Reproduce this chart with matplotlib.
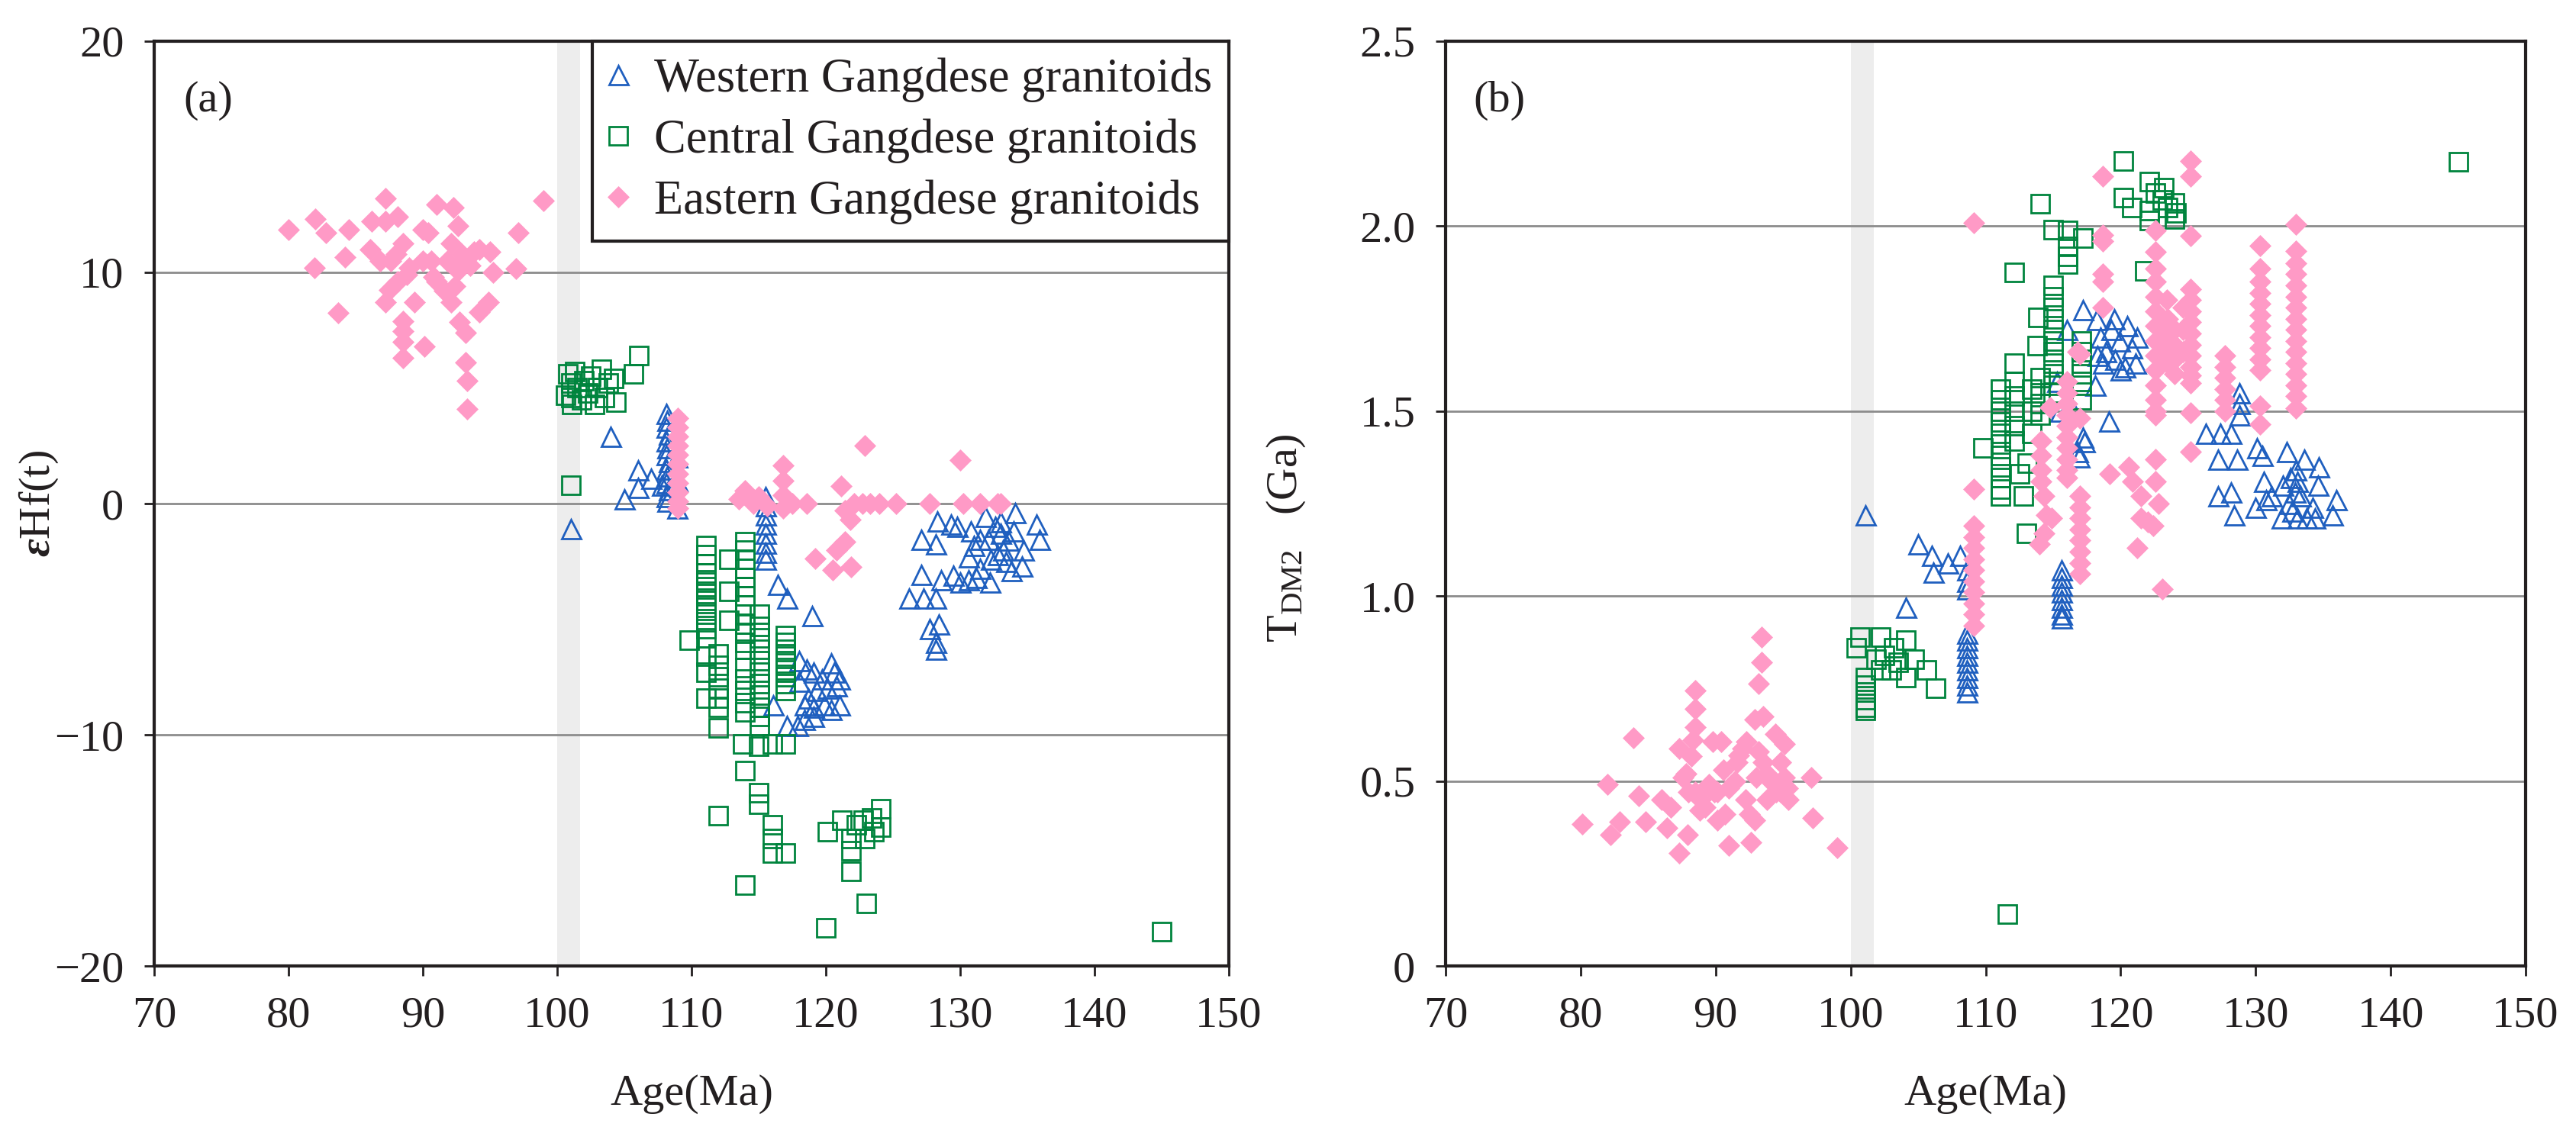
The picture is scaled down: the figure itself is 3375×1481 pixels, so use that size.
import matplotlib
matplotlib.use("Agg")
import matplotlib.pyplot as plt

plt.rcParams['font.family'] = ['Liberation Serif', 'DejaVu Serif']
plt.rcParams['mathtext.fontset'] = 'custom'
plt.rcParams['mathtext.rm'] = 'Liberation Serif'
plt.rcParams['mathtext.it'] = 'Liberation Serif:italic'
plt.rcParams['mathtext.bf'] = 'Liberation Serif:italic:bold'

# ---------------- data: panel (a) eHf(t) ----------------
a_west_x = [101.0, 104.0, 105.0, 106.0, 106.0, 107.0, 107.8,
            108.1, 108.2, 108.1, 108.3, 108.1, 108.2, 108.1, 108.3, 108.1, 108.2, 108.1, 108.3, 108.1, 108.2,
            108.9, 108.9, 108.9,
            115.5, 115.5, 115.5, 115.5, 115.5, 115.5, 115.5, 115.5,
            116.4, 117.1, 119.0, 116.1, 117.1,
            118.0, 118.6, 119.1, 119.7, 120.4, 120.6, 121.0, 120.8, 120.1, 119.3, 118.7, 118.4, 119.1, 119.9,
            120.4, 121.0, 118.4, 117.9, 119.1, 118.0,
            128.3, 127.1, 128.2, 129.8, 131.9, 130.8, 132.1, 133.0, 133.6, 134.1, 135.7, 135.9, 134.7, 130.6,
            132.3, 133.4, 133.8, 134.6, 127.1, 128.6, 130.0, 130.6, 132.2, 126.2, 127.3, 128.2, 127.7, 128.4,
            128.2, 128.2, 131.0, 132.6, 133.2, 131.5, 132.8, 129.5, 131.2, 133.0, 134.0, 129.3, 131.5]
a_west_y = [-1.1, 2.9, 0.2, 1.45, 0.7, 1.1, 0.8,
            3.9, 3.6, 3.3, 3.0, 2.7, 2.4, 2.1, 1.8, 1.5, 1.2, 0.9, 0.6, 0.3, 0.1,
            2.0, 1.0, -0.2,
            0.3, -0.1, -0.5, -0.9, -1.3, -1.7, -2.1, -2.4,
            -3.5, -4.1, -4.85, -8.7, -9.6,
            -6.8, -7.15, -7.3, -7.6, -6.9, -7.3, -7.6, -7.9, -8.0, -8.1, -8.4, -8.7, -8.8, -8.7,
            -8.9, -8.7, -9.35, -9.6, -9.2, -7.7,
            -0.77, -1.54, -1.76, -1.0, -0.55, -1.2, -1.54, -1.3, -1.6, -0.4, -0.9, -1.54, -2.0, -2.3,
            -2.4, -2.5, -2.9, -2.7, -3.07, -3.3, -3.4, -3.3, -3.4, -4.1, -4.1, -4.1, -5.4, -5.2,
            -6.0, -6.3, -1.8, -1.0, -2.0, -2.8, -2.2, -3.1, -3.2, -0.8, -1.2, -0.88, -1.54]

a_cent_x = [100.6, 100.8, 101.0, 101.0, 101.1, 101.3, 101.5, 101.8, 102.0, 102.3, 102.5, 102.8, 103.0,
            103.3, 103.5, 103.8, 104.2, 104.4, 105.7, 106.1, 101.0,
            111.1, 111.1, 111.1, 111.1, 111.1, 111.1, 111.1, 111.1, 111.1, 111.1, 111.1, 111.1, 111.1,
            111.1, 111.1, 111.1,
            109.85,
            112.0, 112.0, 112.0, 112.0, 112.0, 112.0, 112.0, 112.0,
            112.8, 112.8, 112.8,
            114.0, 114.0, 114.0, 114.0, 114.0, 114.0, 114.0, 114.0, 114.0, 114.0, 114.0, 114.0, 114.0,
            114.0, 114.0, 114.0, 114.0, 114.0, 113.8, 114.0, 114.0,
            115.05, 115.05, 115.05, 115.05, 115.05, 115.05, 115.05, 115.05, 115.05, 115.05, 115.05, 115.0,
            115.0, 115.0,
            116.0, 116.0, 116.0, 116.0, 117.0,
            117.0, 117.0, 117.0, 117.0, 117.0, 117.0, 117.0, 117.0, 117.0, 117.0,
            120.1, 121.2, 121.9, 121.9, 121.9, 122.8, 123.4, 124.1, 124.1, 122.9, 123.0, 120.0, 122.3, 123.6,
            145.0]
a_cent_y = [4.7, 5.6, 5.2, 4.6, 4.3, 5.7, 5.0, 4.5, 5.3, 4.8, 5.5, 4.3, 5.0,
            5.8, 4.6, 5.2, 5.4, 4.4, 5.6, 6.4, 0.8,
            -1.8, -2.2, -2.6, -3.0, -3.3, -3.6, -3.9, -4.2, -4.5, -4.8, -5.1, -5.4, -5.8,
            -6.6, -7.3, -8.4,
            -5.9,
            -6.5, -7.0, -7.5, -8.0, -8.4, -8.8, -9.7, -13.5,
            -2.4, -3.8, -5.06,
            -1.65, -2.0, -2.4, -2.8, -3.2, -3.6, -4.0, -4.4, -4.8, -5.2, -5.6, -6.0, -6.3,
            -7.1, -7.6, -8.1, -8.6, -9.0, -10.4, -11.55, -16.5,
            -4.8, -5.3, -5.8, -6.3, -6.8, -7.3, -7.8, -8.3, -8.8, -9.2, -9.6, -10.5,
            -12.5, -13.0,
            -10.4, -13.9, -14.5, -15.1, -15.1,
            -5.7, -6.0, -6.3, -6.6, -6.9, -7.2, -7.5, -7.8, -8.1, -10.4,
            -14.2, -13.7, -14.5, -15.0, -15.9, -13.7, -13.6, -13.2, -14.0, -14.5, -17.3, -18.35, -13.9, -14.2,
            -18.5]

a_east_x = [80.0, 82.0, 81.95, 82.8, 83.7, 84.5, 84.2, 86.2, 87.2, 87.2, 88.1, 86.1, 86.8, 87.6,
            88.5, 87.5, 87.2, 88.1, 88.8, 89.4, 88.5, 88.5, 88.5, 88.5, 90.1, 90.0, 90.4, 90.0, 90.6,
            91.0, 92.3, 92.6, 92.1, 91.8, 92.6, 91.0, 91.6, 92.1, 92.9, 93.2, 93.5, 92.7, 93.2, 93.2,
            93.3, 93.3, 94.2, 94.9, 94.2, 95.0, 95.2, 97.1, 96.95, 98.95, 89.0, 90.8, 92.4, 88.0, 93.8,
            109.0, 109.0, 109.0, 109.0, 109.0, 109.0, 109.0, 109.0, 109.0, 109.0, 109.0,
            114.0, 114.6, 115.6, 116.8, 116.8, 116.8, 116.8, 118.6, 121.15, 122.9, 121.4, 121.8, 122.1,
            122.7, 124.0, 125.2, 127.7, 130.0, 130.2, 132.8, 119.2, 120.8, 121.4, 120.5, 121.9, 113.5,
            115.0, 117.5, 123.3, 131.5, 133.0]
a_east_y = [11.85, 12.3, 10.2, 11.7, 8.25, 11.85, 10.65, 12.2, 13.2, 12.2, 12.4, 11.0, 10.5, 10.5,
            11.25, 9.25, 8.7, 9.6, 9.9, 8.7, 7.9, 7.45, 7.0, 6.3, 6.8, 11.85, 11.7, 10.5, 10.5,
            12.95, 12.8, 12.0, 11.25, 10.5, 10.05, 9.6, 9.2, 8.7, 10.8, 10.6, 10.3, 7.85, 7.4, 6.1,
            5.3, 4.1, 8.3, 8.7, 11.0, 10.9, 10.0, 11.7, 10.15, 13.1, 10.2, 9.8, 9.4, 10.8, 10.9,
            3.7, 3.3, 2.9, 2.5, 2.1, 1.7, 1.3, 0.9, 0.5, 0.1, -0.2,
            0.55, 0.0, -0.1, 1.65, 1.0, 0.35, -0.2, 0.0, 0.77, 2.5, -0.3, -0.7, 0.0,
            0.0, 0.0, 0.0, 0.0, 1.87, 0.0, 0.0, -2.37, -2.0, -1.65, -2.86, -2.75, 0.2,
            0.3, 0.0, 0.0, 0.0, 0.0]

# ---------------- data: panel (b) TDM2 (Ga) ----------------
b_west_x = [101.1, 104.1, 105.0, 106.0, 106.1, 107.2, 108.1,
            108.6, 108.6, 108.6, 108.6, 108.6, 108.6, 108.6, 108.6, 108.6, 108.6, 108.6, 108.6,
            115.6, 115.6, 115.6, 115.6, 115.6, 115.6, 115.6, 115.6,
            116.9, 117.3, 116.0, 117.2, 118.2, 119.15, 118.1,
            118.5, 118.9, 119.3, 119.6, 119.9, 120.3, 120.5, 120.8, 121.1, 121.2, 118.7, 119.5, 120.0, 118.3,
            115.3, 115.5, 116.2, 116.8, 117.2,
            126.3, 127.4, 128.2, 127.2, 128.6, 128.8, 128.8, 128.8, 130.1, 130.5, 132.3, 133.6, 134.7,
            130.6, 132.6, 133.1, 134.6, 132.9, 127.2, 128.2, 130.0, 130.8, 128.4, 131.9, 133.1, 133.8,
            136.0, 135.7, 132.5, 133.3, 132.0, 131.2, 134.2, 133.0, 132.7, 134.4]
b_west_y = [1.22, 0.97, 1.14, 1.11, 1.065, 1.09, 1.11,
            0.90, 0.88, 0.86, 0.84, 0.82, 0.80, 0.78, 0.76, 0.74, 1.07, 1.04, 1.02,
            1.07, 1.05, 1.03, 1.01, 0.99, 0.97, 0.95, 0.94,
            1.376, 1.417, 1.72, 1.774, 1.747, 1.472, 1.57,
            1.70, 1.66, 1.72, 1.64, 1.69, 1.62, 1.73, 1.67, 1.63, 1.70, 1.63, 1.75, 1.61, 1.65,
            1.58, 1.50, 1.52, 1.39, 1.43,
            1.44, 1.44, 1.44, 1.37, 1.37, 1.55, 1.52, 1.49, 1.40, 1.38, 1.39, 1.37, 1.35,
            1.31, 1.32, 1.31, 1.30, 1.28, 1.27, 1.28, 1.24, 1.26, 1.22, 1.21, 1.21, 1.21,
            1.26, 1.22, 1.25, 1.27, 1.30, 1.27, 1.24, 1.34, 1.23, 1.21]

b_cent_x = [100.4, 100.7, 101.1, 101.1, 101.1, 101.1, 101.1, 101.1, 102.2, 102.5, 102.2, 103.2, 103.5,
            104.1, 104.1, 104.7, 105.6, 106.3, 101.9, 103.0,
            109.8,
            111.1, 111.1, 111.1, 111.1, 111.1, 111.1, 111.1, 111.1, 111.1, 111.1, 111.1,
            112.1, 112.1, 112.1, 112.1, 112.1, 112.1, 112.1,
            112.5, 112.8, 113.0, 113.1, 113.4, 113.4, 113.4,
            114.06, 113.9, 113.8, 114.06, 114.06, 114.06, 114.06,
            115.0, 115.0, 115.0, 115.0, 115.0, 115.0, 115.0, 115.0, 115.0, 115.0, 115.0, 115.0,
            116.1, 116.1, 116.1, 116.1, 117.2,
            117.1, 117.1, 117.1, 117.1, 117.1, 117.1,
            111.6,
            120.18, 120.2, 120.8, 122.1, 123.2, 122.1, 123.1, 124.0, 124.1, 122.1, 124.0, 121.8, 122.6, 123.5,
            145.0]
b_cent_y = [0.86, 0.89, 0.78, 0.76, 0.74, 0.72, 0.70, 0.69, 0.89, 0.84, 0.80, 0.86, 0.82,
            0.88, 0.78, 0.83, 0.80, 0.75, 0.83, 0.80,
            1.40,
            1.56, 1.53, 1.50, 1.47, 1.44, 1.41, 1.38, 1.35, 1.32, 1.29, 1.27,
            1.874, 1.63, 1.58, 1.54, 1.50, 1.46, 1.42,
            1.33, 1.27, 1.17, 1.36, 1.56, 1.50, 1.44,
            2.06, 1.754, 1.678, 1.59, 1.55, 1.52, 1.49,
            1.99, 1.84, 1.81, 1.78, 1.75, 1.72, 1.69, 1.66, 1.63, 1.60, 1.57, 1.55,
            1.988, 1.946, 1.919, 1.898, 1.967,
            1.69, 1.66, 1.63, 1.60, 1.57, 1.53,
            0.14,
            2.177, 2.077, 2.05, 2.12, 2.104, 2.043, 2.07, 2.063, 2.036, 2.015, 2.02, 1.88, 2.09, 2.05,
            2.175]

b_east_x = [80.1, 82.2, 82.0, 82.9, 83.9, 84.3, 84.8, 86.0, 86.4, 87.3, 87.3, 87.6, 87.9, 88.5, 88.5,
            88.5, 88.2, 88.5, 88.8, 89.5, 89.8, 90.1, 90.1, 90.4, 90.7, 91.0, 91.0, 91.6, 92.0, 92.3,
            92.6, 92.9, 92.9, 93.0, 93.2, 93.4, 93.4, 93.5, 93.5, 93.8, 94.1, 94.4, 94.8, 95.1, 95.1,
            95.4, 97.1, 97.2, 99.0, 86.7, 89.2,
            87.8, 88.0, 88.9, 89.9, 91.4, 92.2, 93.8, 94.5, 95.3, 88.3, 92.5, 93.2, 91.7, 90.6, 94.8,
            109.1, 109.1, 109.1, 109.1, 109.1, 109.1, 109.1, 109.1, 109.1, 109.1, 109.1, 109.1,
            114.1, 114.1, 114.1, 114.1, 114.3, 114.5, 114.9, 114.3, 114.0, 114.8,
            116.0, 116.0, 116.0, 116.0, 116.0, 116.0, 116.0, 116.0, 116.0, 116.0,
            117.0, 117.0, 117.0, 117.0, 117.0, 117.0, 117.0, 117.0, 117.0, 117.0, 116.8,
            118.7, 118.7, 118.7, 118.7, 118.7, 118.7,
            119.2, 120.6, 120.9, 121.5, 121.2, 121.5, 122.4, 122.8, 122.6, 122.6, 123.1, 122.0,
            122.6, 122.6, 122.6, 122.6, 122.6, 122.6, 122.6, 122.6, 122.6, 122.6, 122.6, 122.6, 122.6,
            122.6,
            123.5, 123.5, 123.5, 123.5, 124.0, 124.0, 124.0, 124.0, 123.4,
            125.2, 125.2, 125.2, 125.2, 125.2, 125.2, 125.2, 125.2, 125.2, 125.2, 125.2, 125.2, 125.2,
            125.2, 125.2,
            124.6, 124.6, 124.6,
            127.7, 127.7, 127.7, 127.7, 127.7, 127.7,
            130.3, 130.3, 130.3, 130.3, 130.3, 130.3, 130.3, 130.3, 130.3, 130.3, 130.3, 130.3, 130.3,
            133.0, 133.0, 133.0, 133.0, 133.0, 133.0, 133.0, 133.0, 133.0, 133.0, 133.0, 133.0, 133.0,
            133.0, 133.0, 133.0]
b_east_y = [0.384, 0.354, 0.49, 0.39, 0.617, 0.46, 0.39, 0.45, 0.374, 0.306, 0.588, 0.51, 0.354, 0.744,
            0.695, 0.646, 0.568, 0.47, 0.42, 0.49, 0.607, 0.393, 0.47, 0.607, 0.41, 0.48, 0.325, 0.55,
            0.588, 0.607, 0.335, 0.666, 0.393, 0.51, 0.763, 0.89, 0.82, 0.675, 0.55, 0.45, 0.50, 0.627,
            0.47, 0.51, 0.60, 0.45, 0.51, 0.40, 0.32, 0.43, 0.43,
            0.52, 0.47, 0.45, 0.47, 0.50, 0.45, 0.52, 0.47, 0.48, 0.61, 0.41, 0.58, 0.57, 0.53, 0.55,
            2.01, 1.29, 1.19, 1.16, 1.13, 1.10, 1.07, 1.04, 1.01, 0.98, 0.95, 0.92,
            1.42, 1.38, 1.34, 1.31, 1.27, 1.22, 1.21, 1.17, 1.14, 1.51,
            1.58, 1.55, 1.52, 1.49, 1.46, 1.43, 1.40, 1.37, 1.34, 1.32,
            1.654, 1.48, 1.27, 1.24, 1.21, 1.18, 1.15, 1.12, 1.09, 1.06, 1.66,
            2.135, 1.977, 1.96, 1.87, 1.85, 1.78,
            1.33, 1.35, 1.31, 1.27, 1.13, 1.21, 1.19, 1.25, 1.37, 1.31, 1.02, 1.20,
            1.988, 1.93, 1.885, 1.85, 1.81, 1.77, 1.73, 1.69, 1.65, 1.61, 1.57, 1.53, 1.50,
            1.49,
            1.75, 1.71, 1.67, 1.63, 1.72, 1.68, 1.64, 1.60, 1.80,
            2.177, 2.135, 1.974, 1.83, 1.80, 1.77, 1.74, 1.71, 1.68, 1.65, 1.62, 1.596, 1.575,
            1.496, 1.39,
            1.78, 1.72, 1.66,
            1.65, 1.62, 1.59, 1.56, 1.53, 1.50,
            1.947, 1.885, 1.85, 1.82, 1.79, 1.76, 1.73, 1.70, 1.67, 1.64, 1.61, 1.513, 1.465,
            2.005, 1.933, 1.90, 1.87, 1.84, 1.81, 1.78, 1.75, 1.72, 1.69, 1.66, 1.63, 1.60,
            1.57, 1.54, 1.507]

labels = ["Western Gangdese granitoids", "Central Gangdese granitoids", "Eastern Gangdese granitoids"]
x_ticks = [70, 80, 90, 100, 110, 120, 130, 140, 150]
a_yticks = [-20, -10, 0, 10, 20]
a_ytick_labels = ["\u221220", "\u221210", "0", "10", "20"]
b_yticks = [0, 0.5, 1.0, 1.5, 2.0, 2.5]
b_ytick_labels = ["0", "0.5", "1.0", "1.5", "2.0", "2.5"]
band = (100.0, 101.7)

# ---------------- styling ----------------
TXT = '#231F20'
BLUE = '#1F5FBF'
GREEN = '#00843D'
PINK = '#FF9AC6'
FS = 42
LFS = 45

fig = plt.figure(figsize=(33.75, 14.81), dpi=100)
ax1 = fig.add_axes([0.05985, 0.14517, 0.41719, 0.81837])
ax2 = fig.add_axes([0.56119, 0.14517, 0.41926, 0.81837])


def style(ax, yticks, ylabels, ylim, grid_vals):
    ax.set_xlim(70, 150)
    ax.set_ylim(*ylim)
    ax.axvspan(band[0], band[1], color='#EDEDED', lw=0, zorder=0.5)
    for g in grid_vals:
        ax.axhline(g, color='#8C8C8C', lw=2.0, zorder=1)
    ax.set_xticks(x_ticks)
    ax.set_xticklabels([str(t) for t in x_ticks])
    ax.set_yticks(yticks)
    ax.set_yticklabels(ylabels)
    ax.tick_params(axis='both', which='major', direction='out', length=9.5, width=2.0,
                   labelsize=FS, pad=19, colors=TXT, labelcolor=TXT, top=False, right=False)
    for s in ax.spines.values():
        s.set_linewidth(3.0)
        s.set_color(TXT)
        s.set_zorder(5)
    ax.set_xlabel("Age(Ma)", fontsize=FS, color=TXT)
    ax.xaxis.set_label_coords(0.5, -0.139)
    ax.xaxis.label.set_verticalalignment('center')


def draw_series(ax, wx, wy, cx, cy, ex, ey):
    h1, = ax.plot(wx, wy, linestyle='none', marker='^', ms=18, mfc='none', mec=BLUE, mew=2.0,
                  zorder=2, label=labels[0])
    h2, = ax.plot(cx, cy, linestyle='none', marker='s', ms=17, mfc='none', mec=GREEN, mew=2.0,
                  zorder=3, label=labels[1])
    h3, = ax.plot(ex, ey, linestyle='none', marker='D', ms=14.5, mfc=PINK, mec=PINK, mew=0.5,
                  zorder=4, label=labels[2])
    return [h1, h2, h3]


style(ax1, a_yticks, a_ytick_labels, (-20, 20), [-10, 0, 10])
handles = draw_series(ax1, a_west_x, a_west_y, a_cent_x, a_cent_y, a_east_x, a_east_y)
ax1.set_ylabel('$\\mathbf{\u03b5}$Hf(t)', fontsize=FS, color=TXT)
ax1.yaxis.set_label_coords(-0.087, 0.5)
ax1.text(0.027, 0.9356, "(a)", transform=ax1.transAxes, fontsize=FS, color=TXT,
         ha='left', va='center', zorder=6)
leg = ax1.legend(handles=handles, loc='upper right', bbox_to_anchor=(1.0, 1.0), borderaxespad=0,
                 fontsize=LFS, frameon=True, fancybox=False, framealpha=1, edgecolor=TXT,
                 handlelength=0.4, handletextpad=0.55, labelspacing=0.34, borderpad=0.35)
leg.get_frame().set_linewidth(3.0)
for t in leg.get_texts():
    t.set_color(TXT)
leg.set_zorder(6)

style(ax2, b_yticks, b_ytick_labels, (0, 2.5), [0.5, 1.0, 1.5, 2.0])
draw_series(ax2, b_west_x, b_west_y, b_cent_x, b_cent_y, b_east_x, b_east_y)
ax2.set_ylabel('T$_{\\mathrm{DM2}}$   (Ga)', fontsize=FS, color=TXT)
ax2.yaxis.set_label_coords(-0.128, 0.463)
ax2.text(0.026, 0.9356, "(b)", transform=ax2.transAxes, fontsize=FS, color=TXT,
         ha='left', va='center', zorder=6)

fig.savefig("out.png", dpi=100, facecolor='white')
